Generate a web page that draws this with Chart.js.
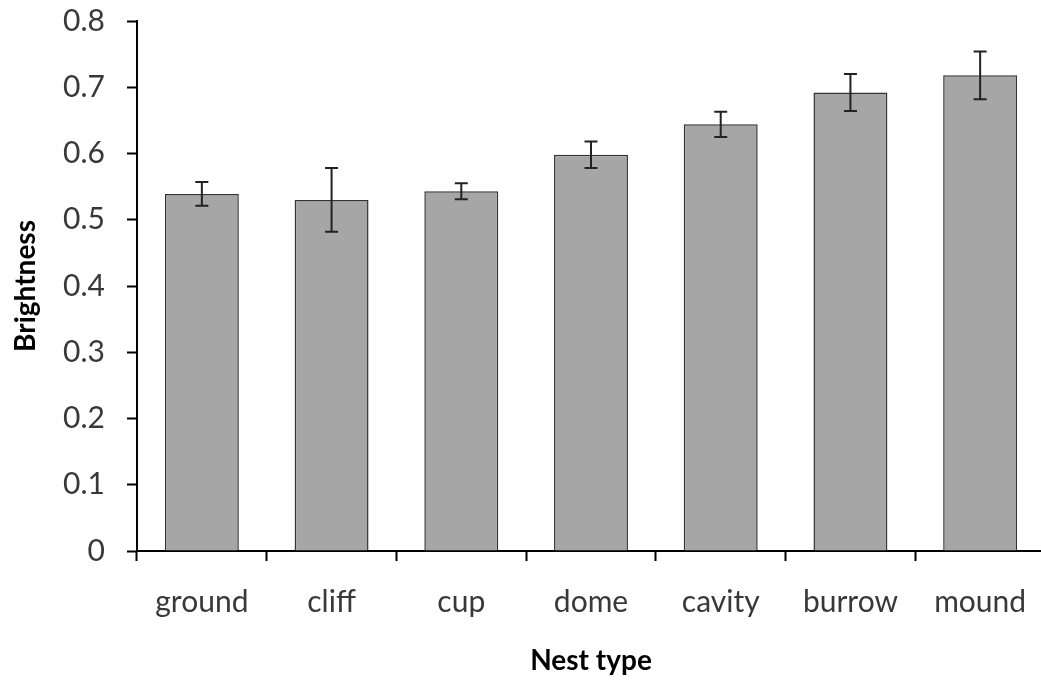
<!DOCTYPE html>
<html>
<head>
<meta charset="utf-8">
<script src="https://cdn.jsdelivr.net/npm/chart.js@4.4.1/dist/chart.umd.min.js"></script>
<style>
    html, body { margin: 0; padding: 0; background: #fff; overflow: hidden; }
    #wrap { position: relative; width: 1046px; height: 681px; }
</style>
</head>
<body>
<div id="wrap"><canvas id="nestChart"></canvas></div>
<script>
// Mean brightness per nest type, with its error bar half-width
const nestTypes = ['ground', 'cliff', 'cup', 'dome', 'cavity', 'burrow', 'mound'];
const meanBrightness = [0.539, 0.530, 0.543, 0.598, 0.644, 0.692, 0.718];
const errBrightness = [0.018, 0.048, 0.012, 0.020, 0.019, 0.028, 0.036];
const yTickValues = [0, 0.1, 0.2, 0.3, 0.4, 0.5, 0.6, 0.7, 0.8];

const fontFamily = 'Lato, "Open Sans", sans-serif';

// Draw the error bars on top of the bars
const errorBarPlugin = {
    id: 'errorBars',
    afterDatasetsDraw(chart) {
        const ctx = chart.ctx;
        const meta = chart.getDatasetMeta(0);
        const yScale = chart.scales.y;
        ctx.save();
        ctx.strokeStyle = '#222';
        ctx.lineWidth = 2;
        meta.data.forEach((bar, i) => {
            const x = bar.x;
            const yHi = yScale.getPixelForValue(meanBrightness[i] + errBrightness[i]);
            const yLo = yScale.getPixelForValue(meanBrightness[i] - errBrightness[i]);
            ctx.beginPath();
            ctx.moveTo(x, yHi);
            ctx.lineTo(x, yLo);
            ctx.moveTo(x - 6.5, yHi);
            ctx.lineTo(x + 6.5, yHi);
            ctx.moveTo(x - 6.5, yLo);
            ctx.lineTo(x + 6.5, yLo);
            ctx.stroke();
        });
        ctx.restore();
    }
};

const ctx = document.getElementById('nestChart').getContext('2d');
new Chart(ctx, {
    type: 'bar',
    data: {
        labels: nestTypes,
        datasets: [{
            data: meanBrightness,
            backgroundColor: '#a6a6a6',
            borderColor: '#333',
            borderWidth: 1.5,
            borderSkipped: 'bottom',
            barPercentage: 0.57,
            categoryPercentage: 1
        }]
    },
    options: {
        responsive: true,
        maintainAspectRatio: false,
        animation: false,
        layout: {
            padding: { top: 21, right: 1, bottom: 0, left: 0 }
        },
        plugins: {
            legend: { display: false },
            tooltip: { enabled: false }
        },
        scales: {
            x: {
                // fixed axis band height; no extra edge padding for labels
                afterFit: (scale) => {
                    scale.height = 130;
                    scale.paddingLeft = 0;
                    scale.paddingRight = 0;
                },
                grid: {
                    display: true,
                    drawOnChartArea: false,
                    drawTicks: true,
                    tickLength: 10,
                    tickWidth: 2,
                    tickColor: '#000',
                    offset: true
                },
                border: { color: '#000', width: 2 },
                ticks: {
                    color: '#383838',
                    padding: 23,
                    maxRotation: 0,
                    font: { family: fontFamily, size: 30 }
                },
                title: {
                    display: true,
                    text: 'Nest type',
                    color: '#000',
                    padding: { top: 0, bottom: 3 },
                    font: { family: fontFamily, size: 28, weight: 'bold' }
                }
            },
            y: {
                min: 0,
                max: 0.8,
                afterFit: (scale) => {
                    scale.width = 137;
                    scale.paddingTop = 0;
                    scale.paddingBottom = 0;
                },
                afterBuildTicks: (scale) => {
                    scale.ticks = yTickValues.map(v => ({ value: v }));
                },
                grid: {
                    display: true,
                    drawOnChartArea: false,
                    drawTicks: true,
                    tickLength: 10,
                    tickWidth: 2,
                    tickColor: '#000'
                },
                border: { color: '#000', width: 2 },
                ticks: {
                    color: '#383838',
                    padding: 22,
                    font: { family: fontFamily, size: 30 },
                    callback: (value) => value === 0 ? '0' : value.toFixed(1)
                },
                title: {
                    display: true,
                    text: 'Brightness',
                    color: '#000',
                    padding: { top: 9, bottom: 0 },
                    font: { family: fontFamily, size: 28, weight: 'bold' }
                }
            }
        }
    },
    plugins: [errorBarPlugin]
});
</script>
</body>
</html>
